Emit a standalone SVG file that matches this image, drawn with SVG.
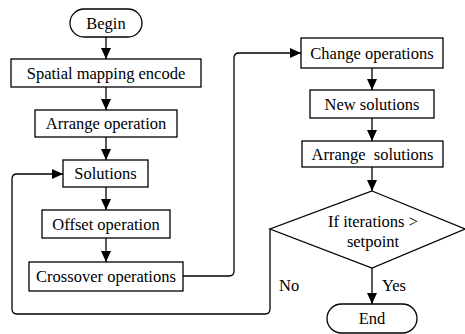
<svg xmlns="http://www.w3.org/2000/svg" width="465" height="334" viewBox="0 0 465 334">
<defs>
<marker id="arr" viewBox="0 0 11 10" refX="11" refY="5" markerWidth="11" markerHeight="10" markerUnits="userSpaceOnUse" orient="auto">
<path d="M0,0 L11,5 L0,10 Z" fill="#000"/>
</marker>
<style>
.box{fill:#fff;stroke:#000;stroke-width:1.3}
text{font-family:"Liberation Serif","Times New Roman",serif;font-size:16.5px;fill:#000;white-space:pre}
.t{text-anchor:middle}
.c{fill:none;stroke:#000;stroke-width:1.3;marker-end:url(#arr)}
</style>
</defs>
<rect width="465" height="334" fill="#fff"/>
<g id="connectors">
<path class="c" d="M106,37 V59"/>
<path class="c" d="M106,87 V110"/>
<path class="c" d="M106,137 V160"/>
<path class="c" d="M106,187 V210"/>
<path class="c" d="M106,238 V262"/>
<path class="c" d="M183,276 H229 Q234,276 234,271 V58 Q234,53 239,53 H301"/>
<path class="c" d="M372,68 V90"/>
<path class="c" d="M372,118 V141"/>
<path class="c" d="M372,167 V191"/>
<path class="c" d="M372,268 V304"/>
<path class="c" d="M270,229 V309 Q270,314 265,314 H17 Q12,314 12,309 V179 Q12,174 17,174 H63"/>
</g>
<g id="begin"><rect class="box" x="70" y="9" width="72" height="28" rx="14"/><text class="t" x="106" y="28.5">Begin</text></g>
<g id="spatial"><rect class="box" x="11" y="59" width="190" height="28"/><text class="t" x="106" y="78.5">Spatial mapping encode</text></g>
<g id="arrange-op"><rect class="box" x="35" y="110" width="142" height="27"/><text class="t" x="106" y="129">Arrange operation</text></g>
<g id="solutions"><rect class="box" x="63" y="160" width="85" height="27"/><text class="t" x="105.5" y="179">Solutions</text></g>
<g id="offset"><rect class="box" x="42" y="210" width="128" height="28"/><text class="t" x="106" y="229.5">Offset operation</text></g>
<g id="crossover"><rect class="box" x="29" y="262" width="154" height="29"/><text class="t" x="106" y="282">Crossover operations</text></g>
<g id="change"><rect class="box" x="301" y="38" width="142" height="30"/><text class="t" x="372" y="58.5">Change operations</text></g>
<g id="new"><rect class="box" x="310" y="90" width="124" height="28"/><text class="t" x="372" y="109.5">New solutions</text></g>
<g id="arrange-sol"><rect class="box" x="302" y="141" width="141" height="26"/><text class="t" x="372.5" y="159.5">Arrange  solutions</text></g>
<g id="decision"><path class="box" d="M372,191 L465,229 L372,268 L270,229 Z"/><text class="t" x="373" y="227">If iterations &gt;</text><text class="t" x="373" y="247">setpoint</text></g>
<g id="end"><rect class="box" x="327" y="304" width="90" height="29" rx="14.5"/><text class="t" x="372" y="324">End</text></g>
<g id="labels"><text x="279" y="291">No</text><text x="382" y="291">Yes</text></g>
</svg>
